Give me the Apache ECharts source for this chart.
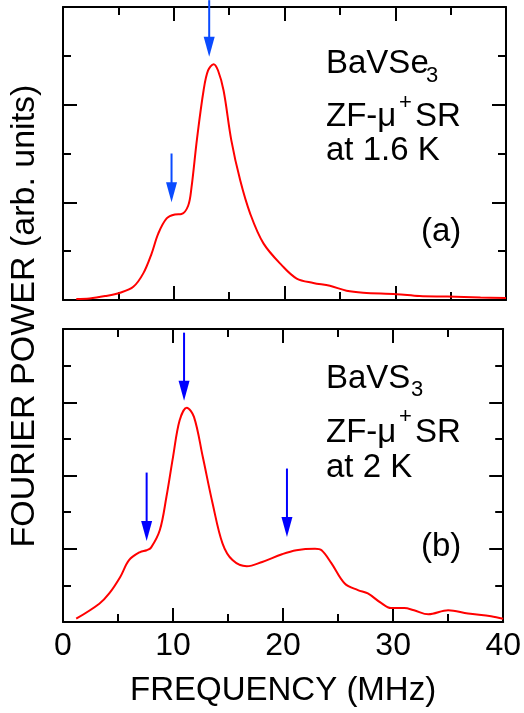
<!DOCTYPE html>
<html>
<head>
<meta charset="utf-8">
<title>Fourier power</title>
<script src="https://cdn.jsdelivr.net/npm/echarts@6/dist/echarts.min.js"></script>
<style>
  html, body { margin: 0; padding: 0; background: #fff; }
  #chart { width: 524px; height: 713px; }
</style>
</head>
<body>
<div id="chart"></div>
<script>
// panel (a) BaVSe3, 1.6 K
const freqA = [1.2, 2.4, 3.8, 5.15, 6.35, 7.26, 8.0, 8.6, 9.36, 10.1, 10.7, 11.3, 11.6, 12.1, 12.7, 13.1, 13.6, 14.0, 14.5, 15.2, 16.0, 16.9, 18.1, 19.8, 21.1, 22.6, 24.1, 25.6, 27.1, 30.1, 32.2, 34.7, 37.7, 40];
const powerA = [0.02, 0.03, 0.08, 0.15, 0.27, 0.55, 0.95, 1.36, 1.67, 1.75, 1.76, 1.93, 2.3, 3.3, 4.3, 4.7, 4.83, 4.7, 4.29, 3.27, 2.45, 1.77, 1.16, 0.7, 0.44, 0.35, 0.29, 0.19, 0.15, 0.12, 0.08, 0.07, 0.05, 0.04];
// panel (b) BaVS3, 2 K
const freqB = [1.2, 3.3, 4.2, 5.2, 6.0, 7.0, 7.6, 8.0, 8.8, 9.4, 10.0, 10.6, 11.25, 11.9, 12.7, 13.6, 14.5, 15.4, 16.7, 18.1, 19.9, 21.2, 22.9, 23.5, 24.4, 25.6, 26.8, 27.7, 28.9, 29.8, 31.0, 31.9, 33.2, 35.0, 36.8, 38.9, 40];
const powerB = [0.09, 0.5, 0.78, 1.23, 1.69, 1.91, 1.96, 2.03, 2.51, 3.42, 4.51, 5.51, 5.85, 5.6, 4.51, 3.23, 2.14, 1.69, 1.52, 1.64, 1.85, 1.96, 2.0, 1.96, 1.6, 1.05, 0.87, 0.78, 0.52, 0.38, 0.38, 0.32, 0.21, 0.32, 0.23, 0.16, 0.09];

// arrows: [frequency, tail, tip]
const arrowsA = [[13.2, 6.14, 4.98], [9.8, 3.0, 2.0]];
const arrowsB = [[7.6, 4.08, 2.21], [11.0, 7.9, 6.04], [20.35, 4.19, 2.32]];

const xTicks = [0, 10, 20, 30, 40];
const yMaxA = 6;
const yMaxB = 8;

const FONT = '"Liberation Sans", Arial, Helvetica, sans-serif';

const chart = echarts.init(document.getElementById('chart'));

function pairs(xs, ys) {
  return xs.map((x, i) => [x, ys[i]]);
}

function xAx(grid, pos, labels) {
  return {
    type: 'value', gridIndex: grid, position: pos,
    min: xTicks[0], max: xTicks[xTicks.length - 1], interval: 10,
    axisLine: { show: true, onZero: false, lineStyle: { color: '#000', width: 2 } },
    axisTick: { show: true, inside: true, length: 14, lineStyle: { color: '#000', width: 2 } },
    minorTick: { show: true, splitNumber: 2, length: 8, lineStyle: { color: '#000', width: 2 } },
    splitLine: { show: false },
    axisLabel: { show: labels, fontSize: 32, color: '#000', fontFamily: FONT, margin: 8 },
    name: labels ? 'FREQUENCY (MHz)' : '',
    nameLocation: 'middle', nameGap: 52,
    nameTextStyle: { fontSize: 33, color: '#000', fontFamily: FONT }
  };
}

function yAx(grid, pos, max) {
  return {
    type: 'value', gridIndex: grid, position: pos,
    min: 0, max: max, interval: 2,
    axisLine: { show: true, onZero: false, lineStyle: { color: '#000', width: 2 } },
    axisTick: { show: true, inside: true, length: 14, lineStyle: { color: '#000', width: 2 } },
    minorTick: { show: true, splitNumber: 2, length: 8, lineStyle: { color: '#000', width: 2 } },
    splitLine: { show: false },
    axisLabel: { show: false }
  };
}

// arrow = shaft + filled head, placed with the axes' scales
function arrowSeries(list, xi, yi, color) {
  return {
    type: 'custom', xAxisIndex: xi, yAxisIndex: yi,
    data: list, clip: false, silent: true,
    encode: { x: 0, y: [1, 2] },
    renderItem: (params, api) => {
      const tail = api.coord([api.value(0), api.value(1)]);
      const tip = api.coord([api.value(0), api.value(2)]);
      const hl = 20, hw = 5.5;
      return {
        type: 'group',
        children: [
          { type: 'line', shape: { x1: tail[0], y1: tail[1], x2: tip[0], y2: tip[1] - hl + 2 },
            style: { stroke: color, lineWidth: 2 } },
          { type: 'polygon', shape: { points: [[tip[0] - hw, tip[1] - hl], [tip[0] + hw, tip[1] - hl], [tip[0], tip[1]]] },
            style: { fill: color } }
        ]
      };
    }
  };
}

function txt(x, y, s, size) {
  return {
    type: 'text', x: x, y: y, silent: true,
    style: { text: s, font: size + 'px ' + FONT, fill: '#000', align: 'left', verticalAlign: 'middle' }
  };
}

const option = {
  animation: false,
  backgroundColor: '#fff',
  grid: [
    { left: 63, right: 18, top: 7, height: 293 },
    { left: 63, right: 18, top: 329, height: 293 }
  ],
  xAxis: [xAx(0, 'bottom', false), xAx(0, 'top', false), xAx(1, 'bottom', true), xAx(1, 'top', false)],
  yAxis: [yAx(0, 'left', yMaxA), yAx(0, 'right', yMaxA), yAx(1, 'left', yMaxB), yAx(1, 'right', yMaxB)],
  series: [
    {
      type: 'line', xAxisIndex: 0, yAxisIndex: 0,
      data: pairs(freqA, powerA),
      smooth: 0.35, showSymbol: false, clip: false,
      lineStyle: { color: '#ff0000', width: 2 }
    },
    {
      type: 'line', xAxisIndex: 2, yAxisIndex: 2,
      data: pairs(freqB, powerB),
      smooth: 0.35, showSymbol: false, clip: false,
      lineStyle: { color: '#ff0000', width: 2 }
    },
    arrowSeries(arrowsA, 0, 0, '#0a4bff'),
    arrowSeries(arrowsB, 2, 2, '#0000ff')
  ],
  graphic: [
    {
      type: 'text', x: 25, y: 316, rotation: Math.PI / 2, silent: true,
      style: { text: 'FOURIER POWER (arb. units)', font: '34px ' + FONT, fill: '#000', align: 'center', verticalAlign: 'middle' }
    },
    txt(326, 64, 'BaVSe', 33), txt(426, 76, '3', 22),
    txt(326, 117, 'ZF-\u03bc', 33), txt(399, 103, '+', 22), txt(415, 117, 'SR', 33),
    txt(326, 151, 'at 1.6 K', 33),
    txt(421, 232, '(a)', 33),
    txt(326, 379, 'BaVS', 33), txt(411, 390, '3', 22),
    txt(326, 433, 'ZF-\u03bc', 33), txt(399, 417, '+', 22), txt(415, 433, 'SR', 33),
    txt(326, 468, 'at 2 K', 33),
    txt(421, 547, '(b)', 33)
  ]
};

chart.setOption(option);
</script>
</body>
</html>
